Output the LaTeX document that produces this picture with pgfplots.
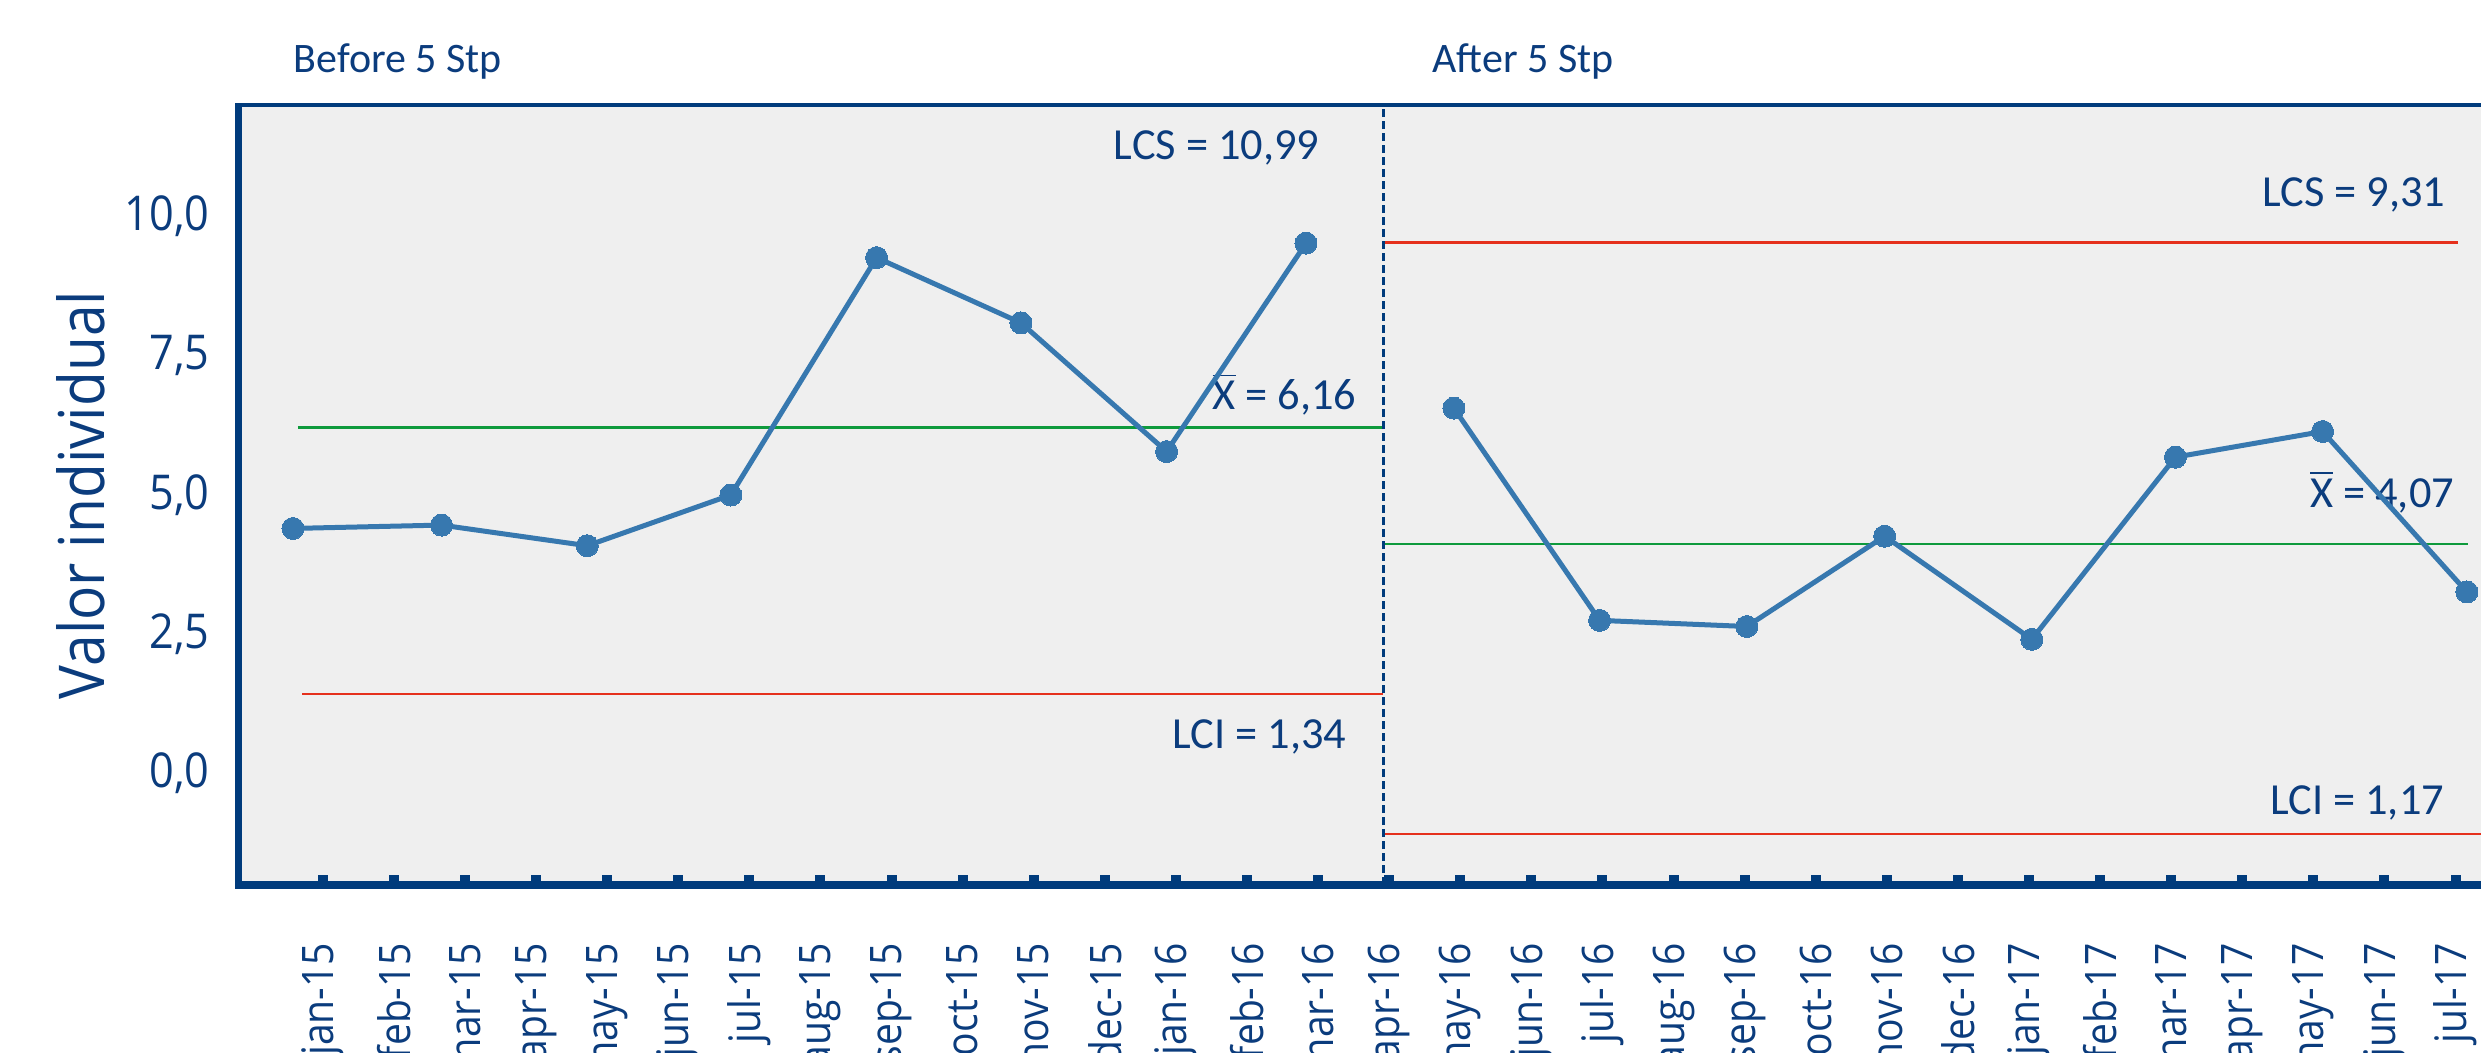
\documentclass[border=0pt]{standalone}
\usepackage{fontspec}
\setmainfont{Open Sans}[FakeStretch=0.9]
\newfontfamily\annfont{Carlito}
\usepackage{pgfplots}
\pgfplotsset{compat=1.18}
\definecolor{navy}{HTML}{0B3C7D}
\definecolor{axisnavy}{HTML}{003B7C}
\definecolor{bggray}{HTML}{EFEFEF}
\definecolor{lineblue}{HTML}{3778AF}
\definecolor{lcred}{HTML}{E5301C}
\definecolor{avgreen}{HTML}{0E9A3C}
\newcommand\xbar{$\overline{\mbox{X}}$}
\begin{document}
\begin{tikzpicture}
\useasboundingbox (0,0) rectangle (620.25pt,263pt);
\begin{axis}[
  at={(59.5pt,41.75pt)}, anchor=south west,
  scale only axis, width=565.5pt, height=195pt,
  xmin=-1.193, xmax=30.626, ymin=-2, ymax=12,
  clip=false,
  axis background/.style={fill=bggray},
  axis line style={draw=none},
  xtick={0,...,30},
  xticklabels={jan-15,feb-15,mar-15,apr-15,may-15,jun-15,jul-15,aug-15,sep-15,oct-15,nov-15,dec-15,jan-16,feb-16,mar-16,apr-16,may-16,jun-16,jul-16,aug-16,sep-16,oct-16,nov-16,dec-16,jan-17,feb-17,mar-17,apr-17,may-17,jun-17,jul-17},
  xtick pos=bottom, tick align=inside,
  major tick length=2.4pt,
  xtick style={axisnavy, line width=2.5pt},
  xticklabel shift=14.25pt,
  xticklabel style={rotate=90, anchor=east, inner sep=0pt, font=\fontsize{10.85}{12}\selectfont, text=navy},
  ytick={0,2.5,5,7.5,10},
  ytick style={draw=none},
  ytick pos=left,
  yticklabel shift=6.9pt,
  yticklabel style={font=\fontsize{12}{14}\selectfont, text=navy, inner sep=0pt,
    /pgf/number format/.cd, use comma, fixed, fixed zerofill, precision=1, assume math mode=true},
  ylabel={Valor individual},
  ylabel style={at={(axis description cs:-0.0588,0.5)}, anchor=base, inner sep=0pt, rotate=0, font=\fontsize{15.8}{18}\selectfont, text=navy},
]
% control limits
\addplot[avgreen, line width=0.6pt] coordinates {(-0.35,6.21) (14.92,6.21)};
\addplot[lcred, line width=0.6pt] coordinates {(-0.29,1.43) (14.92,1.43)};
\addplot[lcred, line width=0.6pt] coordinates {(14.92,9.53) (30.03,9.53)};
\addplot[avgreen, line width=0.6pt] coordinates {(14.92,4.12) (30.17,4.12)};
\addplot[lcred, line width=0.6pt] coordinates {(14.92,-1.08) (30.626,-1.08)};
% divider
\addplot[axisnavy, line width=0.6pt, dash pattern=on 2pt off 1pt] coordinates {(14.92,-2) (14.92,12)};
% annotations
\node[anchor=base east, text=navy, inner sep=0pt, font=\annfont\fontsize{11.1}{13}\selectfont] at (axis cs:14.03,11.03) {LCS = 10,99};
\node[anchor=base east, text=navy, inner sep=0pt, font=\annfont\fontsize{11.1}{13}\selectfont] at (axis cs:14.55,6.53) {\xbar\ = 6,16};
\node[anchor=base east, text=navy, inner sep=0pt, font=\annfont\fontsize{11.1}{13}\selectfont] at (axis cs:14.41,0.454) {LCI = 1,34};
\node[anchor=base east, text=navy, inner sep=0pt, font=\annfont\fontsize{11.1}{13}\selectfont] at (axis cs:29.87,10.17) {LCS = 9,31};
\node[anchor=base east, text=navy, inner sep=0pt, font=\annfont\fontsize{11.1}{13}\selectfont] at (axis cs:29.99,4.78) {\xbar\ = 4,07};
\node[anchor=base east, text=navy, inner sep=0pt, font=\annfont\fontsize{11.1}{13}\selectfont] at (axis cs:29.85,-0.74) {LCI = 1,17};
\node[anchor=base west, text=navy, inner sep=0pt, font=\annfont\fontsize{10.5}{12}\selectfont] at (axis cs:-0.42,12.58) {Before 5 Stp};
\node[anchor=base west, text=navy, inner sep=0pt, font=\annfont\fontsize{10.5}{12}\selectfont] at (axis cs:15.60,12.58) {After 5 Stp};
% data
\addplot[lineblue, line width=1.25pt, mark=*, mark size=2.75pt, mark options={fill=lineblue, draw=lineblue, line width=0pt}]
  coordinates {(-0.42,4.40) (1.67,4.46) (3.72,4.09) (5.74,5.00) (7.79,9.26) (9.82,8.09) (11.87,5.78) (13.83,9.52)};
\addplot[lineblue, line width=1.25pt, mark=*, mark size=2.75pt, mark options={fill=lineblue, draw=lineblue, line width=0pt}]
  coordinates {(15.91,6.56) (17.96,2.75) (20.03,2.64) (21.97,4.26) (24.04,2.41) (26.06,5.68) (28.13,6.14) (30.16,3.26)};
% frame
\draw[axisnavy, line width=0.8pt] (rel axis cs:0,1) -- (rel axis cs:1,1);
\draw[axisnavy, line width=1.75pt] (rel axis cs:0,-0.005) -- (rel axis cs:0,1.002);
\draw[axisnavy, line width=2pt] (rel axis cs:0,0) -- (rel axis cs:1,0);
\end{axis}
\end{tikzpicture}
\end{document}
